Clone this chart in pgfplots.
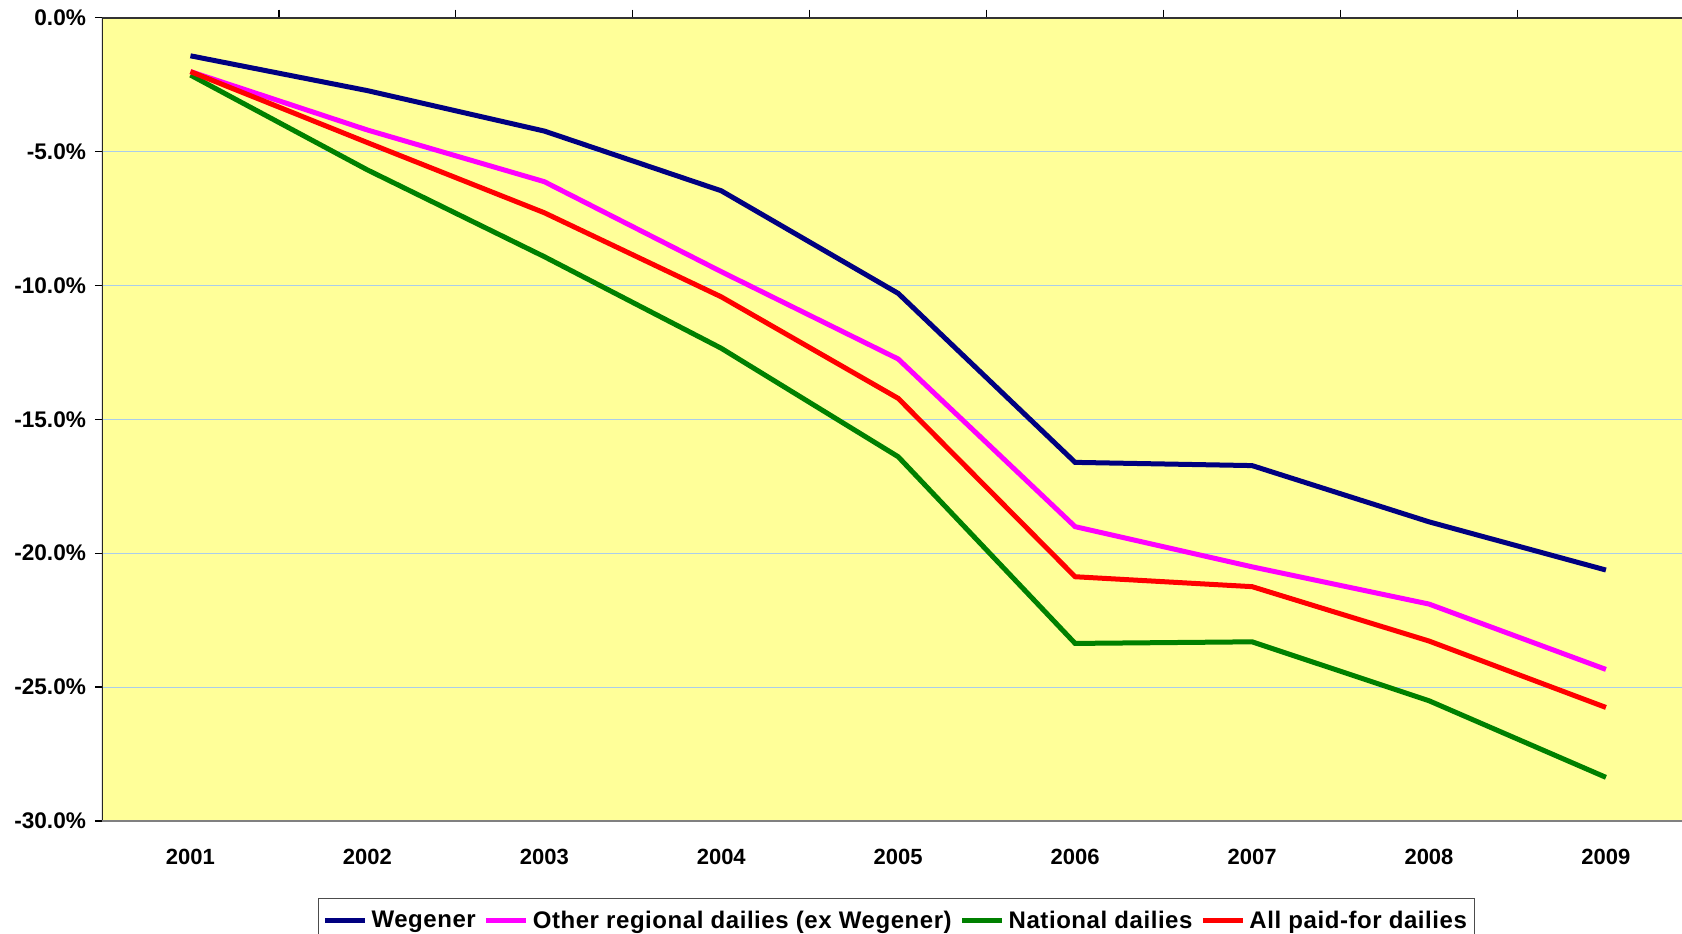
\documentclass[border=0pt]{standalone}
\usepackage{pgfplots}
\pgfplotsset{compat=1.18}
\usepackage{fontspec}
\setmainfont{Liberation Sans}
\definecolor{bgyellow}{RGB}{255,255,153}
\definecolor{gridblue}{RGB}{170,205,235}
\definecolor{navyline}{RGB}{0,0,128}
\definecolor{magline}{RGB}{255,0,255}
\definecolor{greenline}{RGB}{0,128,0}
\definecolor{redline}{RGB}{255,0,0}
\begin{document}
\begin{tikzpicture}
\begin{axis}[
  scale only axis,
  width=790pt, height=401.75pt,
  at={(0,0)}, anchor=south west,
  xmin=0.5, xmax=9.43,
  ymin=-30, ymax=0,
  axis background/.style={fill=bgyellow},
  axis line style={draw=none},
  xtick={1,...,9},
  xticklabels={2001,2002,2003,2004,2005,2006,2007,2008,2009},
  minor xtick={1.5,2.5,...,8.5},
  xtick pos=right,
  xticklabel pos=left,
  major x tick style={draw=none},
  minor x tick style={draw=black, line width=0.6pt},
  minor tick length=4pt,
  x tick label style={font=\bfseries\fontsize{11}{13}\selectfont, yshift=-7pt},
  ytick={-30,-25,...,0},
  yticklabels={-30.0\%,-25.0\%,-20.0\%,-15.0\%,-10.0\%,-5.0\%,0.0\%},
  ytick pos=left,
  y tick style={draw=black, line width=0.6pt},
  major tick length=3.5pt,
  tick align=outside,
  y tick label style={font=\bfseries\fontsize{11.3}{13}\selectfont, xshift=-1pt},
  ymajorgrids,
  grid style={gridblue, line width=0.5pt},
  legend columns=4,
  legend style={
    at={(0.503,-0.096)}, anchor=north,
    draw=black!70, line width=0.5pt,
    font=\bfseries\fontsize{12}{14}\selectfont\addfontfeatures{LetterSpace=2.3},
    inner xsep=2pt, inner ysep=4pt,
    /tikz/every even column/.append style={column sep=2pt},
  },
  legend image code/.code={\draw[#1, line width=2.5pt] (0pt,0pt) -- (20pt,0pt);},
  every axis plot/.append style={line width=2.5pt, line join=miter, mark=none},
]
\addplot[navyline] coordinates {(1,-1.43) (2,-2.73) (3,-4.24) (4,-6.47) (5,-10.30) (6,-16.61) (7,-16.73) (8,-18.83) (9,-20.63)};
\addlegendentry{Wegener}
\addplot[magline] coordinates {(1,-2.02) (2,-4.20) (3,-6.13) (4,-9.49) (5,-12.75) (6,-19.01) (7,-20.51) (8,-21.90) (9,-24.34)};
\addlegendentry{Other regional dailies (ex Wegener)}
\addplot[greenline] coordinates {(1,-2.15) (2,-5.69) (3,-8.93) (4,-12.35) (5,-16.40) (6,-23.37) (7,-23.31) (8,-25.51) (9,-28.37)};
\addlegendentry{National dailies}
\addplot[redline] coordinates {(1,-2.02) (2,-4.67) (3,-7.29) (4,-10.43) (5,-14.22) (6,-20.88) (7,-21.25) (8,-23.28) (9,-25.76)};
\addlegendentry{All paid-for dailies}
\draw[black!80, line width=1pt] (rel axis cs:0,1) -- (rel axis cs:1,1);
\draw[black!85, line width=0.9pt] (rel axis cs:0,0) -- (rel axis cs:0,1);
\draw[black!50, line width=1pt] (rel axis cs:0,0) -- (rel axis cs:1,0);
\end{axis}
\pgfresetboundingbox
\path[use as bounding box] (-51pt,-56pt) rectangle (790pt,410.5pt);
\end{tikzpicture}
\end{document}
